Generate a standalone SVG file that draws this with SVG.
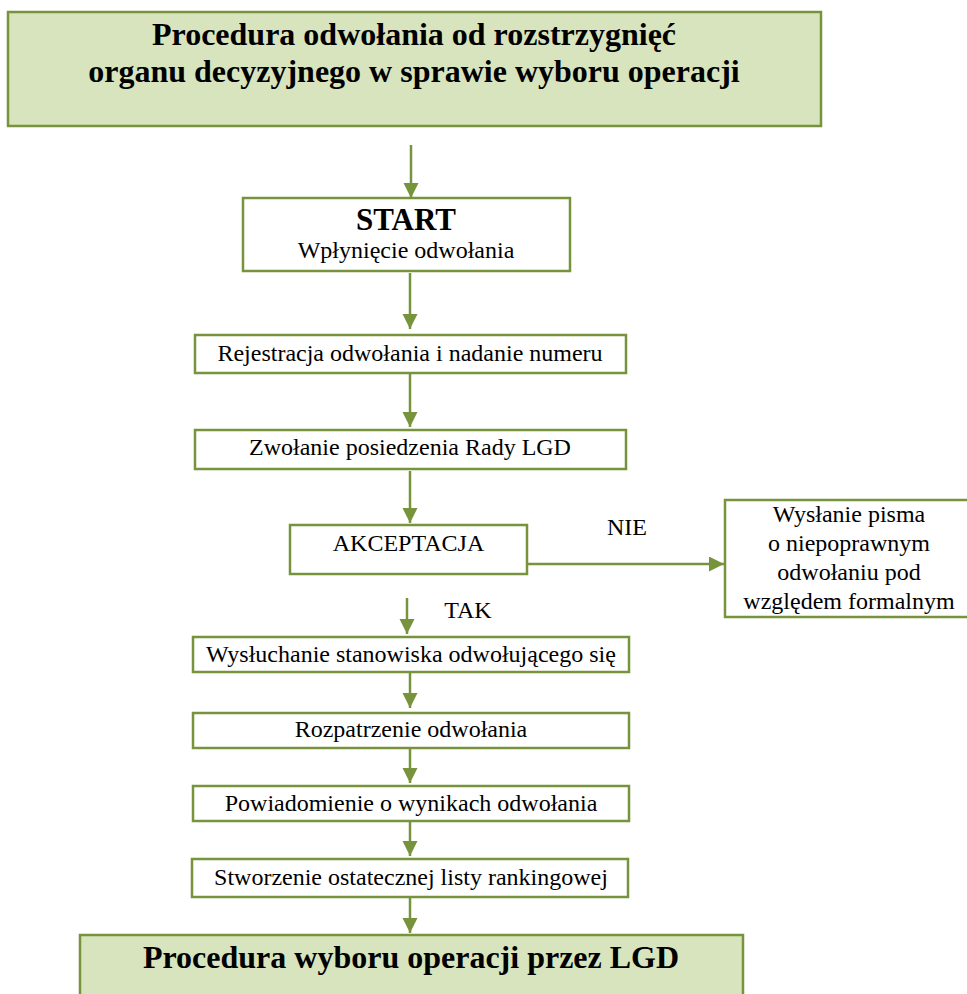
<svg xmlns="http://www.w3.org/2000/svg" width="967" height="994" viewBox="0 0 967 994">
<style>
.box{fill:#ffffff;stroke:#77933c;stroke-width:2.5}
.hdr{fill:#d7e4bd;stroke:#77933c;stroke-width:2.5}
.t{font-family:"Liberation Serif","Times New Roman",serif;font-size:24px;fill:#000;text-anchor:middle}
.b{font-family:"Liberation Serif","Times New Roman",serif;font-size:32px;font-weight:bold;fill:#000;text-anchor:middle}
.c{stroke:#77933c;stroke-width:2.5;fill:none;marker-end:url(#ah)}
</style>
<defs>
<marker id="ah" markerUnits="userSpaceOnUse" markerWidth="16" markerHeight="16" refX="15" refY="7.5" orient="auto">
<path d="M0,0 L15,7.5 L0,15 z" fill="#77933c"/>
</marker>
</defs>
<rect width="967" height="994" fill="#ffffff"/>
<g id="title">
<rect class="hdr" x="8" y="12" width="813" height="114"/>
<text class="b" x="414" y="45">Procedura odwołania od rozstrzygnięć</text>
<text class="b" x="414" y="82">organu decyzyjnego w sprawie wyboru operacji</text>
</g>
<g id="start">
<rect class="box" x="243" y="198" width="327" height="73"/>
<text class="b" x="406" y="230" style="font-size:31px">START</text>
<text class="t" x="406" y="258">Wpłynięcie odwołania</text>
</g>
<g id="rejestracja">
<rect class="box" x="195" y="335" width="431" height="38"/>
<text class="t" x="410" y="361">Rejestracja odwołania i nadanie numeru</text>
</g>
<g id="zwolanie">
<rect class="box" x="195" y="430" width="431" height="39"/>
<text class="t" x="410" y="455">Zwołanie posiedzenia Rady LGD</text>
</g>
<g id="akceptacja">
<rect class="box" x="290" y="525" width="237" height="49"/>
<text class="t" x="408.5" y="551">AKCEPTACJA</text>
</g>
<g id="wyslanie">
<rect class="box" x="725" y="500" width="250" height="117"/>
<text class="t" x="849" y="522">Wysłanie pisma</text>
<text class="t" x="849" y="551">o niepoprawnym</text>
<text class="t" x="849" y="580">odwołaniu pod</text>
<text class="t" x="849" y="609">względem formalnym</text>
</g>
<g id="wysluchanie">
<rect class="box" x="193" y="637" width="436" height="35"/>
<text class="t" x="411" y="662">Wysłuchanie stanowiska odwołującego się</text>
</g>
<g id="rozpatrzenie">
<rect class="box" x="193" y="713" width="436" height="35"/>
<text class="t" x="411" y="737">Rozpatrzenie odwołania</text>
</g>
<g id="powiadomienie">
<rect class="box" x="193" y="786" width="436" height="35"/>
<text class="t" x="411" y="811">Powiadomienie o wynikach odwołania</text>
</g>
<g id="stworzenie">
<rect class="box" x="192" y="859" width="436" height="38"/>
<text class="t" x="411" y="885">Stworzenie ostatecznej listy rankingowej</text>
</g>
<g id="procedura-wyboru">
<rect class="hdr" x="80" y="935" width="663" height="70"/>
<text class="b" x="411" y="968">Procedura wyboru operacji przez LGD</text>
</g>
<g id="connectors">
<line class="c" x1="411" y1="145" x2="411" y2="198"/>
<line class="c" x1="410" y1="273" x2="410" y2="329"/>
<line class="c" x1="410" y1="374" x2="410" y2="427"/>
<line class="c" x1="410" y1="471" x2="410" y2="523"/>
<line class="c" x1="527" y1="564" x2="724" y2="564"/>
<line class="c" x1="407" y1="598" x2="407" y2="634"/>
<line class="c" x1="410" y1="673" x2="410" y2="708"/>
<line class="c" x1="410" y1="749" x2="410" y2="783"/>
<line class="c" x1="410" y1="822" x2="410" y2="856"/>
<line class="c" x1="410" y1="898" x2="410" y2="933"/>
<text class="t" x="627" y="535">NIE</text>
<text class="t" x="468" y="618">TAK</text>
</g>
</svg>
